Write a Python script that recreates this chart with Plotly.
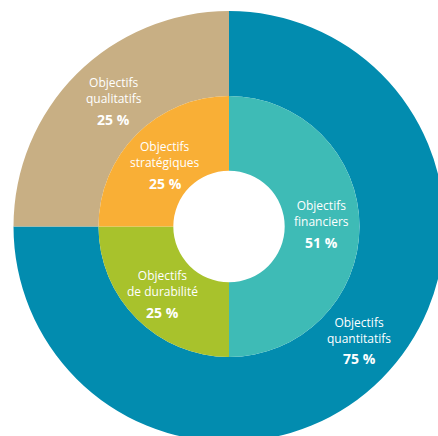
import math
import plotly.graph_objects as go

# outer ring: type of objective
outer_labels = ["Objectifs<br>quantitatifs", "Objectifs<br>qualitatifs"]
outer_values = [75, 25]
outer_pct = ["75 %", "25 %"]
outer_colors = ["#028CAF", "#C8AF84"]

# inner ring: family of objective
inner_labels = ["Objectifs<br>financiers", "Objectifs<br>de durabilité", "Objectifs<br>stratégiques"]
inner_values = [50, 25, 25]
inner_pct = ["51 %", "25 %", "25 %"]
inner_colors = ["#3EBBB6", "#A8C22C", "#F9AF36"]

W, H = 460, 460
cx, cy = 229, 226.5
r_out, r_in, r_hole = 215.5, 130.5, 55.7

# small hand nudges (px) so the labels sit where the designer put them
outer_nudge = [(8, -10.5), (7, -5.5)]
inner_nudge = [(-0.5, -5), (-1, -0.5), (2, 2)]

FONT = "Open Sans"


def dom(r):
    return dict(x=[(cx - r) / W, (cx + r) / W], y=[1 - (cy + r) / H, 1 - (cy - r) / H])


def label_annotations(values, labels, pct, r0, r1, nudges):
    anns = []
    total = sum(values)
    start = 0
    rm = (r0 + r1) / 2
    for v, lab, p, (nx, ny) in zip(values, labels, pct, nudges):
        a = math.radians((start + v / 2) / total * 360)
        start += v
        px = cx + rm * math.sin(a) + nx
        py = cy - rm * math.cos(a) + ny
        anns.append(dict(
            x=px / W, y=1 - (py - 8) / H, xref="paper", yref="paper",
            text=lab, showarrow=False, xanchor="center", yanchor="middle",
            font=dict(color="white", size=12, family=FONT, weight=500),
        ))
        anns.append(dict(
            x=px / W, y=1 - (py + 20.6) / H, xref="paper", yref="paper",
            text=f"<b>{p}</b>", showarrow=False, xanchor="center", yanchor="middle",
            font=dict(color="white", size=14, family=FONT),
        ))
    return anns


fig = go.Figure()

fig.add_trace(go.Pie(
    values=outer_values, labels=outer_labels, textinfo="none",
    marker=dict(colors=outer_colors, line=dict(width=0)),
    hole=r_in / r_out, sort=False, direction="clockwise", rotation=0,
    domain=dom(r_out), hoverinfo="skip", showlegend=False,
))

fig.add_trace(go.Pie(
    values=inner_values, labels=inner_labels, textinfo="none",
    marker=dict(colors=inner_colors, line=dict(width=0)),
    hole=r_hole / r_in, sort=False, direction="clockwise", rotation=0,
    domain=dom(r_in), hoverinfo="skip", showlegend=False,
))

annotations = (label_annotations(outer_values, outer_labels, outer_pct, r_in, r_out, outer_nudge)
               + label_annotations(inner_values, inner_labels, inner_pct, r_hole, r_in, inner_nudge))

fig.update_layout(
    width=W, height=H,
    margin=dict(l=0, r=0, t=0, b=0),
    paper_bgcolor="white",
    plot_bgcolor="white",
    annotations=annotations,
)

fig.write_html(
    "out.html",
    config={"displayModeBar": False},
    post_script="document.body.style.margin='0';document.body.style.overflow='hidden';"
                "document.documentElement.style.overflow='hidden';",
)
